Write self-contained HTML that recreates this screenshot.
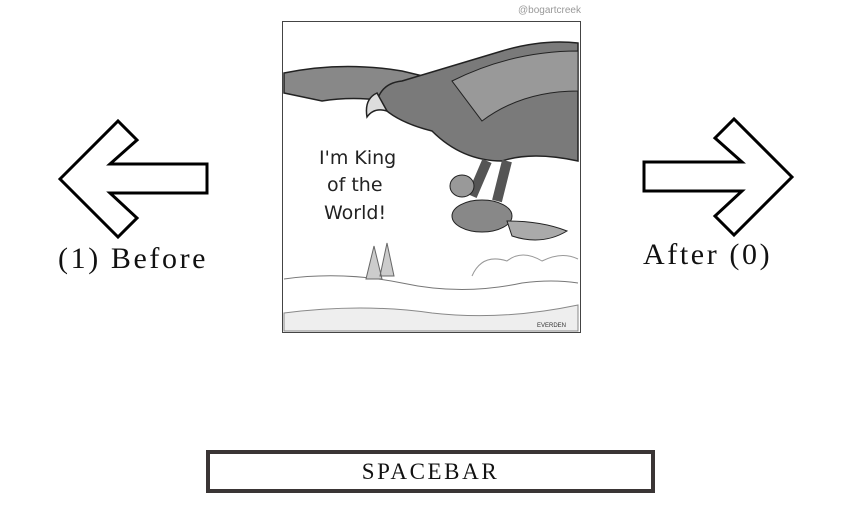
<!DOCTYPE html>
<html><head><meta charset="utf-8"><style>
html,body{margin:0;padding:0;background:#fff;width:864px;height:510px;overflow:hidden;position:relative;font-family:"Liberation Serif",serif}
.lbl{position:absolute;font-size:30px;color:#111;letter-spacing:2.6px;white-space:nowrap}
#space{position:absolute;left:206px;top:450px;width:441px;height:35px;border:4px solid #3a3535;text-align:center;line-height:35px;font-size:23px;letter-spacing:2.6px;color:#111}
</style></head><body>
<svg style="position:absolute;left:0;top:0" width="864" height="510">
<polygon points="60,179 118,121 137,140 110,164 207,164 207,193 110,193 137,218 118,237" fill="#fff" stroke="#000" stroke-width="3" stroke-linejoin="miter"/>
</svg>
<svg style="position:absolute;left:0;top:0" width="864" height="510">
<polygon points="792,177 734,119 715,138 742,162 644,162 644,191 742,191 715,216 734,235" fill="#fff" stroke="#000" stroke-width="3"/>
</svg>
<div class="lbl" style="left:58px;top:242px">(1) Before</div>
<div class="lbl" style="left:643px;top:238px">After (0)</div>
<div style="position:absolute;left:518px;top:5px;font-family:'Liberation Sans',sans-serif;font-size:10px;color:#999">@bogartcreek</div>
<svg style="position:absolute;left:282px;top:21px" width="299" height="312" viewBox="0 0 299 312">
<rect x="0.5" y="0.5" width="298" height="311" fill="#fff" stroke="#444"/>
<path d="M2,52 Q60,40 120,50 L170,62 L150,90 Q90,72 40,80 L2,72Z" fill="#888" stroke="#222" stroke-width="1.5"/>
<path d="M120,60 Q170,45 220,30 Q260,18 296,22 L296,140 Q250,130 220,140 Q180,140 150,110 Q110,100 95,80 Q100,62 120,60Z" fill="#7a7a7a" stroke="#222" stroke-width="1.5"/>
<path d="M170,60 Q230,30 296,30 L296,70 Q240,70 200,100Z" fill="#999" stroke="#222"/>
<path d="M95,72 Q82,78 85,96 Q92,86 105,90Z" fill="#ddd" stroke="#222" stroke-width="1.5"/>
<path d="M205,140 L190,175 M225,140 L215,180" stroke="#555" stroke-width="10"/>
<ellipse cx="200" cy="195" rx="30" ry="16" fill="#888" stroke="#222"/>
<ellipse cx="180" cy="165" rx="12" ry="11" fill="#999" stroke="#222"/>
<path d="M225,200 Q260,200 285,210 Q260,225 230,215Z" fill="#aaa" stroke="#222"/>
<text x="37" y="143" font-family="'DejaVu Sans',sans-serif" font-size="19" fill="#222">I'm King</text>
<text x="45" y="170" font-family="'DejaVu Sans',sans-serif" font-size="19" fill="#222">of the</text>
<text x="42" y="198" font-family="'DejaVu Sans',sans-serif" font-size="19" fill="#222">World!</text>
<path d="M2,258 Q60,250 120,262 Q180,275 240,262 Q270,258 296,262" fill="none" stroke="#777"/>
<path d="M2,310 L2,292 Q80,282 150,292 Q220,300 296,284 L296,310Z" fill="#eee" stroke="#888"/>
<path d="M100,258 L92,225 L84,258Z M112,255 L105,222 L98,255Z" fill="#ccc" stroke="#666"/>
<path d="M190,255 Q200,232 225,240 Q240,228 260,240 Q280,230 296,238" fill="none" stroke="#999"/>
<text x="255" y="306" font-family="'Liberation Sans',sans-serif" font-size="6" fill="#333">EVERDEN</text>
</svg>
<div id="space">SPACEBAR</div>
</body></html>
